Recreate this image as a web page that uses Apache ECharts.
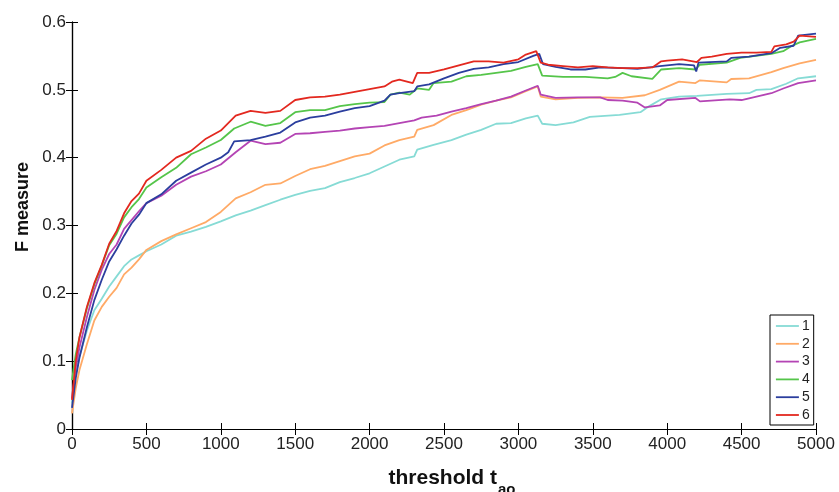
<!DOCTYPE html>
<html>
<head>
<meta charset="utf-8">
<script src="https://cdn.jsdelivr.net/npm/echarts@6/dist/echarts.min.js"></script>
<style>
html,body{margin:0;padding:0;background:#fff;}
#c{width:839px;height:492px;}
</style>
</head>
<body>
<div id="c"></div>
<script>
// ---- data ----
const seriesNames = ['1', '2', '3', '4', '5', '6'];
const xTicks = [0, 500, 1000, 1500, 2000, 2500, 3000, 3500, 4000, 4500, 5000];
const yTicks = [0, 0.1, 0.2, 0.3, 0.4, 0.5, 0.6];

const s1x = [0,25,50,100,150,200,250,300,350,400,450,500,600,700,800,900,1000,1100,1200,1300,1400,1500,1600,1700,1800,1900,2000,2100,2200,2300,2320,2430,2550,2650,2750,2850,2950,3050,3130,3160,3250,3370,3480,3680,3820,3880,3960,4080,4200,4400,4550,4600,4700,4800,4880,5000];
const s1y = [0.038,0.080,0.107,0.145,0.175,0.192,0.210,0.225,0.240,0.250,0.256,0.262,0.272,0.285,0.291,0.298,0.306,0.315,0.322,0.330,0.338,0.345,0.351,0.355,0.364,0.370,0.377,0.387,0.397,0.402,0.412,0.419,0.426,0.434,0.441,0.450,0.451,0.458,0.462,0.450,0.448,0.452,0.460,0.463,0.467,0.476,0.486,0.490,0.491,0.494,0.495,0.500,0.501,0.509,0.517,0.520];

const s2x = [0,25,50,100,150,200,250,300,350,400,450,500,600,700,800,900,1000,1100,1200,1300,1400,1500,1600,1700,1800,1900,2000,2100,2200,2300,2320,2430,2550,2650,2750,2850,2950,3050,3130,3150,3250,3400,3550,3700,3850,3950,4080,4190,4220,4400,4430,4550,4700,4780,4890,5000];
const s2y = [0.023,0.060,0.087,0.125,0.160,0.180,0.195,0.208,0.228,0.238,0.250,0.264,0.277,0.287,0.296,0.305,0.320,0.340,0.349,0.360,0.362,0.373,0.383,0.388,0.395,0.402,0.406,0.418,0.426,0.431,0.441,0.448,0.463,0.470,0.478,0.484,0.489,0.498,0.505,0.490,0.486,0.488,0.489,0.488,0.492,0.500,0.512,0.510,0.514,0.511,0.516,0.517,0.526,0.532,0.539,0.544];

const s3x = [0,25,50,100,150,200,250,300,350,400,450,500,600,700,800,900,1000,1100,1200,1300,1400,1500,1600,1700,1800,1900,2000,2100,2200,2300,2350,2450,2550,2650,2750,2850,2950,3050,3130,3150,3250,3400,3550,3600,3700,3800,3850,3950,4000,4190,4220,4420,4500,4600,4700,4780,4880,5000];
const s3y = [0.045,0.090,0.120,0.165,0.205,0.235,0.258,0.272,0.295,0.308,0.321,0.333,0.344,0.360,0.372,0.380,0.390,0.408,0.425,0.420,0.422,0.435,0.436,0.438,0.440,0.443,0.445,0.447,0.451,0.455,0.459,0.462,0.468,0.473,0.479,0.484,0.490,0.499,0.506,0.493,0.488,0.489,0.489,0.485,0.484,0.481,0.474,0.477,0.485,0.488,0.483,0.486,0.485,0.490,0.495,0.502,0.510,0.514];

const s4x = [0,25,50,100,150,200,250,300,350,400,450,500,600,700,800,900,1000,1090,1200,1300,1400,1500,1600,1700,1800,1900,2000,2100,2140,2200,2270,2320,2400,2430,2550,2650,2750,2850,2950,3050,3130,3160,3300,3450,3600,3650,3700,3760,3900,3960,4080,4190,4220,4400,4490,4700,4780,4830,4890,5000];
const s4y = [0.072,0.110,0.135,0.178,0.213,0.241,0.271,0.288,0.312,0.327,0.339,0.356,0.371,0.385,0.405,0.415,0.426,0.443,0.453,0.447,0.451,0.467,0.470,0.470,0.476,0.479,0.481,0.482,0.493,0.496,0.493,0.502,0.500,0.510,0.512,0.520,0.522,0.525,0.528,0.534,0.538,0.521,0.519,0.519,0.517,0.519,0.525,0.520,0.516,0.530,0.532,0.530,0.537,0.540,0.547,0.553,0.557,0.564,0.570,0.575];

const s5x = [0,25,50,100,150,200,250,300,350,400,450,500,600,700,800,900,1000,1050,1090,1200,1300,1400,1500,1600,1700,1800,1900,2000,2100,2140,2200,2300,2320,2400,2500,2600,2700,2800,2900,3000,3100,3140,3165,3250,3350,3450,3550,3700,3800,3950,4080,4180,4195,4210,4400,4430,4550,4700,4760,4850,4880,5000];
const s5y = [0.031,0.075,0.105,0.150,0.190,0.220,0.247,0.265,0.285,0.303,0.316,0.333,0.346,0.366,0.378,0.390,0.400,0.408,0.424,0.426,0.431,0.437,0.452,0.459,0.462,0.468,0.473,0.476,0.484,0.493,0.495,0.498,0.505,0.508,0.517,0.525,0.531,0.533,0.538,0.541,0.550,0.553,0.538,0.534,0.530,0.530,0.533,0.532,0.531,0.535,0.538,0.536,0.527,0.540,0.542,0.547,0.549,0.554,0.562,0.565,0.580,0.583];

const s6x = [0,25,50,100,150,200,250,300,350,400,450,500,600,700,800,900,1000,1100,1200,1300,1400,1500,1600,1700,1800,1900,2000,2100,2150,2200,2290,2320,2400,2500,2600,2700,2800,2900,3000,3050,3120,3150,3200,3300,3400,3500,3600,3700,3800,3900,3960,4000,4100,4200,4230,4300,4400,4500,4600,4700,4720,4800,4850,4890,5000];
const s6y = [0.043,0.100,0.135,0.180,0.215,0.242,0.273,0.292,0.318,0.336,0.347,0.366,0.382,0.400,0.410,0.428,0.440,0.462,0.469,0.466,0.469,0.485,0.489,0.490,0.493,0.497,0.501,0.505,0.512,0.515,0.510,0.525,0.525,0.530,0.536,0.542,0.542,0.540,0.545,0.552,0.557,0.540,0.537,0.535,0.533,0.535,0.533,0.532,0.532,0.533,0.542,0.543,0.545,0.541,0.547,0.549,0.553,0.555,0.555,0.556,0.564,0.567,0.571,0.580,0.578];

const colors = ['#86dbd5', '#ffaa66', '#b444b4', '#55c54a', '#2b3e9e', '#e3281f'];
const xs = [s1x, s2x, s3x, s4x, s5x, s6x];
const ys = [s1y, s2y, s3y, s4y, s5y, s6y];

const FONT = '"Liberation Sans", Arial, Helvetica, sans-serif';

const chart = echarts.init(document.getElementById('c'), null, {renderer: 'canvas'});

const series = seriesNames.map((n, i) => ({
  name: n,
  type: 'line',
  xAxisIndex: 0,
  yAxisIndex: 0,
  symbol: 'none',
  showSymbol: false,
  animation: false,
  lineStyle: {color: colors[i], width: 1.8},
  itemStyle: {color: colors[i]},
  data: xs[i].map((x, k) => [x, ys[i][k]])
}));

const axisLineStyle = {show: true, lineStyle: {color: '#000', width: 1.2}};
const tickStyle = {show: true, inside: true, length: 6, lineStyle: {color: '#000', width: 1}};

chart.setOption({
  animation: false,
  backgroundColor: '#fff',
  grid: {left: 72, right: 23, top: 22, bottom: 63, containLabel: false},
  xAxis: [{
    type: 'value', position: 'bottom', min: xTicks[0], max: xTicks[xTicks.length - 1],
    interval: xTicks[1] - xTicks[0],
    axisLine: axisLineStyle, axisTick: tickStyle, splitLine: {show: false},
    axisLabel: {color: '#222', fontSize: 17, fontFamily: FONT, margin: 7,
      formatter: v => String(Math.round(v))}
  }, {
    type: 'value', position: 'top', min: xTicks[0], max: xTicks[xTicks.length - 1],
    interval: xTicks[1] - xTicks[0],
    axisLine: axisLineStyle, axisTick: tickStyle, splitLine: {show: false},
    axisLabel: {show: false}
  }],
  yAxis: [{
    type: 'value', position: 'left', min: yTicks[0], max: yTicks[yTicks.length - 1],
    interval: 0.1,
    axisLine: axisLineStyle, axisTick: tickStyle, splitLine: {show: false},
    axisLabel: {color: '#222', fontSize: 17, fontFamily: FONT, margin: 6,
      formatter: v => (Math.round(v * 10) / 10).toString()}
  }, {
    type: 'value', position: 'right', min: yTicks[0], max: yTicks[yTicks.length - 1],
    interval: 0.1,
    axisLine: axisLineStyle, axisTick: tickStyle, splitLine: {show: false},
    axisLabel: {show: false}
  }],
  legend: {
    data: seriesNames,
    orient: 'vertical',
    left: 770, top: 315,
    padding: [4, 4, 3, 5],
    itemGap: 3.8,
    itemWidth: 23, itemHeight: 14,
    backgroundColor: '#fff',
    borderColor: '#000', borderWidth: 1,
    itemStyle: {color: 'rgba(0,0,0,0)', borderWidth: 0, opacity: 0},
    lineStyle: {width: 1.8},
    textStyle: {color: '#222', fontSize: 14, fontFamily: FONT, padding: [0, 0, 0, -2]},
    selectedMode: false
  },
  graphic: [{
    type: 'text', x: 23, y: 207, rotation: Math.PI / 2,
    style: {text: 'F measure', font: 'bold 18px ' + FONT, fill: '#111', align: 'center', verticalAlign: 'middle'}
  }, {
    type: 'text', x: 497, y: 478,
    style: {text: 'threshold t', font: 'bold 21px ' + FONT, fill: '#111', align: 'right', verticalAlign: 'middle'}
  }, {
    type: 'text', x: 498, y: 490,
    style: {text: 'ao', font: 'bold 15px ' + FONT, fill: '#111', align: 'left', verticalAlign: 'middle'}
  }],
  series: series
});
</script>
</body>
</html>
